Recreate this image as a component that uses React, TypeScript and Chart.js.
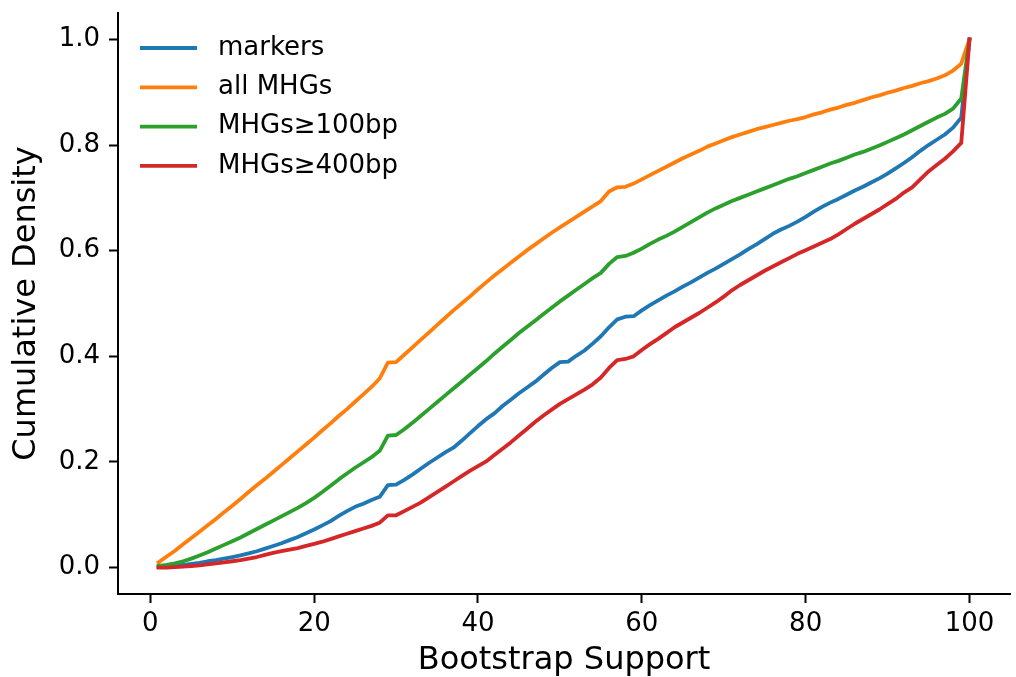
import React, { useEffect, useRef } from "react";
import { Chart, registerables } from "chart.js";

Chart.register(...registerables);

const bootstrapSupport = [
  1, 2, 3, 4, 5, 6, 7, 8, 9, 10, 11, 12, 13, 14, 15, 16, 17, 18, 19, 20,
  21, 22, 23, 24, 25, 26, 27, 28, 29, 30, 31, 32, 33, 34, 35, 36, 37, 38, 39, 40,
  41, 42, 43, 44, 45, 46, 47, 48, 49, 50, 51, 52, 53, 54, 55, 56, 57, 58, 59, 60,
  61, 62, 63, 64, 65, 66, 67, 68, 69, 70, 71, 72, 73, 74, 75, 76, 77, 78, 79, 80,
  81, 82, 83, 84, 85, 86, 87, 88, 89, 90, 91, 92, 93, 94, 95, 96, 97, 98, 99, 100,
];

const markers = [
  0.001, 0.002, 0.003, 0.005, 0.007, 0.009, 0.012, 0.014, 0.017, 0.020,
  0.023, 0.027, 0.031, 0.036, 0.041, 0.046, 0.052, 0.058, 0.065, 0.072,
  0.080, 0.088, 0.098, 0.107, 0.115, 0.121, 0.128, 0.134, 0.156, 0.157,
  0.166, 0.176, 0.187, 0.198, 0.208, 0.218, 0.227, 0.240, 0.254, 0.268,
  0.281, 0.292, 0.306, 0.318, 0.330, 0.341, 0.352, 0.365, 0.378, 0.389,
  0.390, 0.401, 0.411, 0.424, 0.438, 0.455, 0.470, 0.475, 0.476, 0.487,
  0.497, 0.506, 0.515, 0.523, 0.532, 0.540, 0.549, 0.558, 0.566, 0.575,
  0.584, 0.593, 0.603, 0.612, 0.622, 0.632, 0.640, 0.647, 0.655, 0.664,
  0.674, 0.683, 0.691, 0.698, 0.706, 0.714, 0.721, 0.729, 0.737, 0.746,
  0.756, 0.766, 0.777, 0.789, 0.800, 0.810, 0.820, 0.833, 0.852, 1.0,
];

const allMHGs = [
  0.010, 0.021, 0.032, 0.044, 0.056, 0.068, 0.080, 0.092, 0.105, 0.117,
  0.130, 0.143, 0.156, 0.168, 0.181, 0.194, 0.207, 0.220, 0.233, 0.246,
  0.260, 0.273, 0.287, 0.300, 0.314, 0.328, 0.342, 0.358, 0.388, 0.389,
  0.403, 0.417, 0.431, 0.445, 0.459, 0.473, 0.487, 0.500, 0.513, 0.527,
  0.540, 0.553, 0.565, 0.577, 0.589, 0.601, 0.612, 0.623, 0.634, 0.644,
  0.654, 0.664, 0.674, 0.684, 0.694, 0.712, 0.720, 0.721, 0.727, 0.735,
  0.743, 0.751, 0.759, 0.767, 0.775, 0.782, 0.789, 0.797, 0.803, 0.809,
  0.815, 0.820, 0.825, 0.830, 0.834, 0.838, 0.842, 0.846, 0.849, 0.853,
  0.858, 0.862, 0.867, 0.871, 0.876, 0.880, 0.885, 0.890, 0.894, 0.899,
  0.903, 0.908, 0.912, 0.917, 0.921, 0.926, 0.932, 0.941, 0.954, 1.0,
];

const mhgs100bp = [
  0.003, 0.005, 0.008, 0.012, 0.017, 0.023, 0.029, 0.036, 0.043, 0.050,
  0.057, 0.065, 0.073, 0.081, 0.089, 0.097, 0.105, 0.113, 0.122, 0.132,
  0.143, 0.155, 0.167, 0.178, 0.189, 0.199, 0.209, 0.221, 0.250, 0.251,
  0.262, 0.274, 0.287, 0.300, 0.313, 0.326, 0.339, 0.352, 0.365, 0.378,
  0.391, 0.405, 0.418, 0.431, 0.444, 0.456, 0.468, 0.480, 0.492, 0.504,
  0.515, 0.526, 0.537, 0.548, 0.558, 0.575, 0.588, 0.590, 0.596, 0.604,
  0.613, 0.621, 0.628, 0.636, 0.645, 0.654, 0.663, 0.672, 0.680, 0.687,
  0.694, 0.700, 0.706, 0.712, 0.718, 0.724, 0.730, 0.736, 0.741, 0.747,
  0.753, 0.759, 0.765, 0.770, 0.776, 0.782, 0.787, 0.793, 0.799, 0.806,
  0.813, 0.820, 0.828, 0.836, 0.844, 0.852, 0.859, 0.869, 0.888, 1.0,
];

const mhgs400bp = [
  0.000, 0.000, 0.001, 0.002, 0.003, 0.004, 0.006, 0.008, 0.010, 0.012,
  0.014, 0.017, 0.020, 0.024, 0.028, 0.031, 0.034, 0.037, 0.041, 0.045,
  0.049, 0.054, 0.059, 0.064, 0.069, 0.074, 0.079, 0.085, 0.099, 0.099,
  0.107, 0.115, 0.123, 0.133, 0.143, 0.153, 0.163, 0.173, 0.183, 0.192,
  0.201, 0.213, 0.225, 0.237, 0.250, 0.263, 0.276, 0.288, 0.299, 0.310,
  0.319, 0.328, 0.337, 0.347, 0.360, 0.378, 0.393, 0.395, 0.400, 0.412,
  0.423, 0.433, 0.444, 0.455, 0.464, 0.473, 0.482, 0.492, 0.502, 0.513,
  0.525, 0.535, 0.544, 0.553, 0.562, 0.570, 0.578, 0.586, 0.594, 0.601,
  0.608, 0.615, 0.622, 0.631, 0.641, 0.651, 0.660, 0.669, 0.678, 0.688,
  0.698, 0.710, 0.720, 0.735, 0.750, 0.762, 0.774, 0.788, 0.804, 1.0,
];

const seriesLabels = ["markers", "all MHGs", "MHGs\u2265100bp", "MHGs\u2265400bp"];
const seriesColors = ["#1f77b4", "#ff7f0e", "#2ca02c", "#d62728"];

const xTicks = [0, 20, 40, 60, 80, 100];
const yTicks = [0.0, 0.2, 0.4, 0.6, 0.8, 1.0];

const xTitle = "Bootstrap Support";
const yTitle = "Cumulative Density";

const FONT = '"DejaVu Sans", sans-serif';

const legendPlugin = {
  id: "mplLegend",
  afterDraw(chart: any) {
    const { ctx, chartArea } = chart;
    ctx.save();
    const x0 = chartArea.left + 22;
    const x1 = x0 + 57;
    const tx = x0 + 78;
    const y0 = chartArea.top + 35;
    const dy = 39.3;
    seriesLabels.forEach((label, i) => {
      const y = y0 + i * dy;
      ctx.strokeStyle = seriesColors[i];
      ctx.lineWidth = 3.8;
      ctx.lineCap = "butt";
      ctx.beginPath();
      ctx.moveTo(x0, y);
      ctx.lineTo(x1, y);
      ctx.stroke();
      ctx.fillStyle = "#000";
      ctx.font = `26px ${FONT}`;
      ctx.textAlign = "left";
      ctx.textBaseline = "middle";
      ctx.fillText(label, tx, y);
    });
    ctx.restore();
  },
};

export default function App() {
  const canvasRef = useRef<HTMLCanvasElement | null>(null);

  useEffect(() => {
    document.body.style.margin = "0";
    const canvas = canvasRef.current;
    if (!canvas) return;
    const seriesData = [markers, allMHGs, mhgs100bp, mhgs400bp];
    const chart = new Chart(canvas, {
      type: "line",
      data: {
        labels: bootstrapSupport,
        datasets: seriesData.map((d, i) => ({
          label: seriesLabels[i],
          data: d,
          borderColor: seriesColors[i],
          backgroundColor: seriesColors[i],
          borderWidth: 3.8,
          pointRadius: 0,
          tension: 0,
          fill: false,
          borderJoinStyle: "round" as const,
          borderCapStyle: "square" as const,
          order: 4 - i,
        })),
      },
      options: {
        animation: false,
        responsive: false,
        devicePixelRatio: 1,
        layout: { padding: { top: 13, right: 6, left: 0, bottom: 0 } },
        plugins: {
          legend: { display: false },
          tooltip: { enabled: false },
        },
        scales: {
          x: {
            type: "linear",
            min: -3.95,
            max: 104.95,
            afterBuildTicks: (scale: any) => {
              scale.ticks = xTicks.map((v) => ({ value: v }));
            },
            afterFit: (scale: any) => {
              scale.height = 83;
              scale.paddingLeft = 0;
              scale.paddingRight = 0;
            },
            grid: {
              display: true,
              drawOnChartArea: false,
              drawTicks: true,
              tickLength: 9,
              tickWidth: 2,
              tickColor: "#000",
            },
            border: { display: true, color: "#000", width: 2 },
            ticks: {
              color: "#000",
              padding: 8,
              maxRotation: 0,
              font: { family: FONT, size: 26, lineHeight: 1 },
              callback: (v: any) => String(v),
            },
            title: {
              display: true,
              text: xTitle,
              color: "#000",
              padding: { top: 0, bottom: 0 },
              font: { family: FONT, size: 32, lineHeight: 1 },
            },
          },
          y: {
            type: "linear",
            min: -0.05,
            max: 1.05,
            afterBuildTicks: (scale: any) => {
              scale.ticks = yTicks.map((v) => ({ value: v }));
            },
            afterFit: (scale: any) => {
              scale.width = 118;
              scale.paddingTop = 0;
              scale.paddingBottom = 0;
            },
            grid: {
              display: true,
              drawOnChartArea: false,
              drawTicks: true,
              tickLength: 9,
              tickWidth: 2,
              tickColor: "#000",
            },
            border: { display: true, color: "#000", width: 2 },
            ticks: {
              color: "#000",
              padding: 9,
              font: { family: FONT, size: 26, lineHeight: 1 },
              callback: (v: any) => Number(v).toFixed(1),
            },
            title: {
              display: true,
              text: yTitle,
              color: "#000",
              padding: { top: 11, bottom: 0 },
              font: { family: FONT, size: 32, lineHeight: 1 },
            },
          },
        },
      },
      plugins: [legendPlugin],
    });
    return () => chart.destroy();
  }, []);

  return (
    <div style={{ width: 1016, height: 677, background: "#fff" }}>
      <canvas ref={canvasRef} width={1016} height={677} style={{ display: "block" }} />
    </div>
  );
}
